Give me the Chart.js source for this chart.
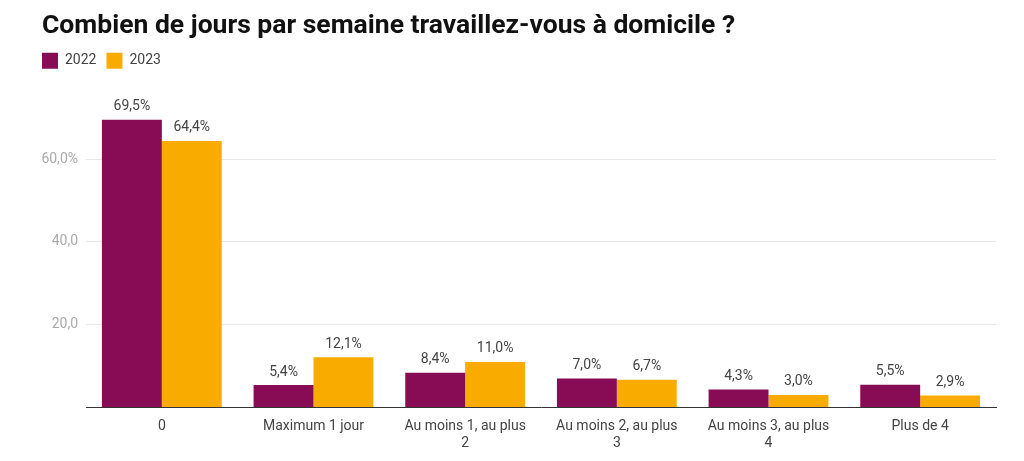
<!DOCTYPE html>
<html>
<head>
<meta charset="utf-8">
<script src="https://cdn.jsdelivr.net/npm/chart.js@4/dist/chart.umd.min.js"></script>
<style>
  html, body { margin: 0; padding: 0; background: #fff; }
  #wrap { width: 1024px; height: 461px; }
</style>
</head>
<body>
<div id="wrap"><canvas id="c"></canvas></div>
<script>
// data
const categories = ['0', 'Maximum 1 jour', ['Au moins 1, au plus', '2'], ['Au moins 2, au plus', '3'], ['Au moins 3, au plus', '4'], 'Plus de 4'];
const values2022 = [69.5, 5.4, 8.4, 7.0, 4.3, 5.5];
const values2023 = [64.4, 12.1, 11.0, 6.7, 3.0, 2.9];
const seriesNames = ['2022', '2023'];
const yMax = 79.4;

const fmt = v => v.toFixed(1).replace('.', ',');

// labels above each bar
const barLabels = {
  id: 'barLabels',
  afterDatasetsDraw(chart){
    const ctx = chart.ctx;
    ctx.save();
    ctx.font = '14px Roboto';
    ctx.fillStyle = '#444';
    ctx.textAlign = 'center';
    ctx.textBaseline = 'bottom';
    chart.data.datasets.forEach((ds, i) => {
      chart.getDatasetMeta(i).data.forEach((bar, j) => {
        ctx.fillText(fmt(ds.data[j]) + '%', bar.x, bar.y - 6);
      });
    });
    ctx.restore();
  }
};

// legend sits flush with the title's left edge
const legendShift = {
  id: 'legendShift',
  afterLayout(chart){ chart.legend.left -= 10; }
};

const hidden = v => v === 0 || v > 60;

new Chart(document.getElementById('c'), {
  type: 'bar',
  data: {
    labels: categories,
    datasets: [
      { label: seriesNames[0], data: values2022, backgroundColor: '#880b55' },
      { label: seriesNames[1], data: values2023, backgroundColor: '#f9ab00' }
    ]
  },
  options: {
    responsive: true,
    maintainAspectRatio: false,
    animation: false,
    layout: { padding: { left: 42, right: 28, top: 4, bottom: 6 } },
    datasets: { bar: { categoryPercentage: 0.79, barPercentage: 1.0 } },
    plugins: {
      title: {
        display: true,
        text: 'Combien de jours par semaine travaillez-vous à domicile ?',
        align: 'start',
        color: '#111',
        font: { family: 'Roboto', size: 26.5, weight: 'bold' },
        padding: { top: 6, bottom: 1 }
      },
      legend: {
        position: 'top',
        align: 'start',
        labels: {
          boxWidth: 16, boxHeight: 16,
          color: '#444',
          font: { family: 'Roboto', size: 14 },
          padding: 10
        }
      },
      tooltip: { enabled: false }
    },
    scales: {
      x: {
        grid: { display: false },
        border: { color: '#333', width: 1 },
        ticks: { color: '#444', font: { family: 'Roboto', size: 14 }, maxRotation: 0, padding: 3 }
      },
      y: {
        min: 0, max: yMax,
        afterFit(scale){ scale.width = 44; },
        border: { display: false },
        grid: {
          color: c => hidden(c.tick.value) ? 'rgba(0,0,0,0)' : '#e8e8e8',
          drawTicks: false
        },
        ticks: {
          stepSize: 20,
          color: '#aaa',
          padding: 8,
          font: { family: 'Roboto', size: 14 },
          callback: v => hidden(v) ? '' : (v === 60 ? fmt(v) + '%' : fmt(v))
        }
      }
    }
  },
  plugins: [barLabels, legendShift]
});
</script>
</body>
</html>
